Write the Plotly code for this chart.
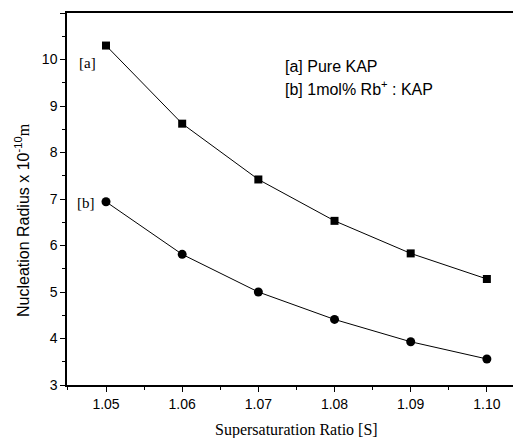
import plotly.graph_objects as go

ratio = [1.05, 1.06, 1.07, 1.08, 1.09, 1.10]
radius_a = [10.30, 8.62, 7.42, 6.53, 5.83, 5.28]
radius_b = [6.94, 5.81, 5.00, 4.41, 3.93, 3.56]
x_ticks = [1.05, 1.06, 1.07, 1.08, 1.09, 1.10]
x_tick_labels = ["1.05", "1.06", "1.07", "1.08", "1.09", "1.10"]
y_ticks = [3, 4, 5, 6, 7, 8, 9, 10, 11]

fig = go.Figure()
fig.add_trace(go.Scatter(x=ratio, y=radius_a, mode="lines+markers",
                         line=dict(color="black", width=1),
                         marker=dict(symbol="square", size=8, color="black")))
fig.add_trace(go.Scatter(x=ratio, y=radius_b, mode="lines+markers",
                         line=dict(color="black", width=1),
                         marker=dict(symbol="circle", size=9, color="black")))

axis_font = dict(family="Liberation Sans, Arial", size=14, color="black")
fig.update_layout(
    width=513, height=430,
    margin=dict(l=59, r=0, t=5, b=53),
    paper_bgcolor="white", plot_bgcolor="white",
    showlegend=False,
    xaxis=dict(range=[1.04488, 1.10448], tickvals=x_ticks, ticktext=x_tick_labels,
               ticks="outside", ticklen=5, tickwidth=1, tickcolor="black",
               minor=dict(tickvals=[1.045, 1.055, 1.065, 1.075, 1.085, 1.095],
                          ticks="outside", ticklen=3, tickcolor="black"),
               showline=True, linecolor="black", linewidth=1.5, mirror=True,
               showgrid=False, zeroline=False, tickfont=axis_font),
    yaxis=dict(range=[3, 11], tickvals=y_ticks,
               ticks="outside", ticklen=5, tickwidth=1, tickcolor="black",
               minor=dict(dtick=0.5, ticks="outside", ticklen=3, tickcolor="black"),
               showline=True, linecolor="black", linewidth=1.5, mirror=False,
               showgrid=False, zeroline=False, tickfont=axis_font),
)

# axis titles
fig.add_annotation(xref="paper", yref="paper", x=-0.0991, y=0.4435, textangle=-90,
                   xanchor="center", yanchor="middle",
                   text="Nucleation Radius x 10<sup>-10</sup><span style='font-family:Liberation Serif'>m</span>",
                   showarrow=False, font=dict(family="Liberation Sans, Arial", size=16, color="black"))
fig.add_annotation(xref="paper", yref="paper", x=0.5055, y=-0.121,
                   xanchor="center", yanchor="middle",
                   text="Supersaturation Ratio [S]", showarrow=False,
                   font=dict(family="Liberation Serif, Times New Roman", size=16, color="black"))

serif = dict(family="Liberation Serif, Times New Roman", size=15, color="black")
fig.add_annotation(x=1.0476, y=9.92, text="[a]", showarrow=False, font=serif, xref="x", yref="y")
fig.add_annotation(x=1.0474, y=6.91, text="[b]", showarrow=False, font=serif, xref="x", yref="y")
sans = dict(family="Liberation Sans, Arial", size=16, color="black")
fig.add_annotation(x=1.0732, y=9.86, text="[a] Pure KAP", showarrow=False, font=sans,
                   xanchor="left", xref="x", yref="y")
fig.add_annotation(x=1.0732, y=9.39, text="[b] 1mol% Rb<sup>+</sup> : KAP", showarrow=False, font=sans,
                   xanchor="left", xref="x", yref="y")

fig.write_html("out.html")
